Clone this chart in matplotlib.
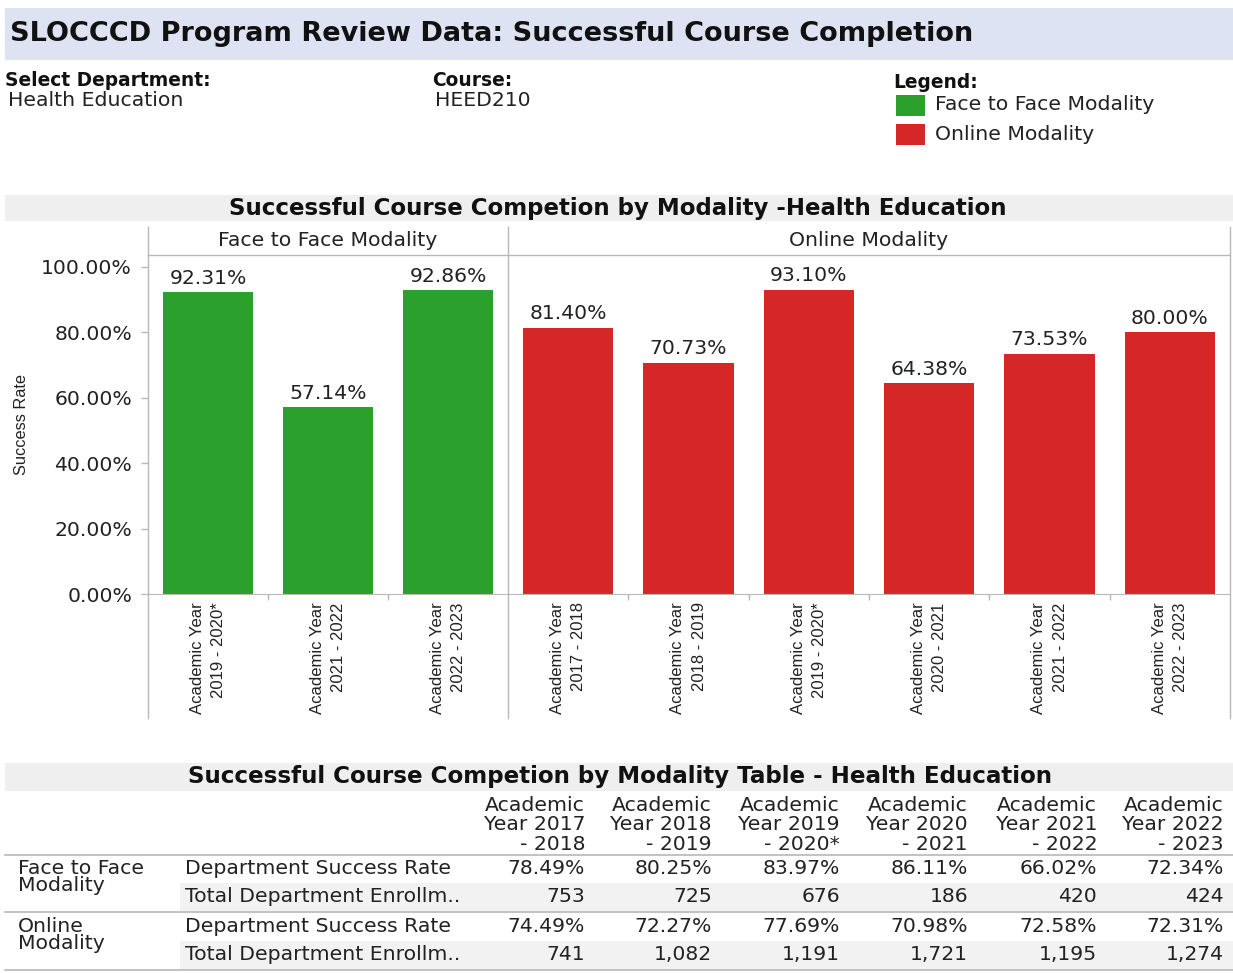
"""Successful course completion by modality, Health Education (SLOCCCD program review)."""

import matplotlib

matplotlib.use("Agg")
import matplotlib.pyplot as plt
from matplotlib.lines import Line2D
from matplotlib.patches import Rectangle

# ---- data -------------------------------------------------------------
f2f_years = ["Academic Year\n2019 - 2020*", "Academic Year\n2021 - 2022", "Academic Year\n2022 - 2023"]
f2f_rates = [92.31, 57.14, 92.86]

online_years = [
    "Academic Year\n2017 - 2018",
    "Academic Year\n2018 - 2019",
    "Academic Year\n2019 - 2020*",
    "Academic Year\n2020 - 2021",
    "Academic Year\n2021 - 2022",
    "Academic Year\n2022 - 2023",
]
online_rates = [81.40, 70.73, 93.10, 64.38, 73.53, 80.00]

y_ticks = [0, 20, 40, 60, 80, 100]

table_years = [
    "Academic\nYear 2017\n- 2018",
    "Academic\nYear 2018\n- 2019",
    "Academic\nYear 2019\n- 2020*",
    "Academic\nYear 2020\n- 2021",
    "Academic\nYear 2021\n- 2022",
    "Academic\nYear 2022\n- 2023",
]
f2f_dept_rate = [78.49, 80.25, 83.97, 86.11, 66.02, 72.34]
f2f_enroll = [753, 725, 676, 186, 420, 424]
online_dept_rate = [74.49, 72.27, 77.69, 70.98, 72.58, 72.31]
online_enroll = [741, 1082, 1191, 1721, 1195, 1274]

# ---- styling ----------------------------------------------------------
W, H = 1233, 973
GREEN = "#2ca02c"
RED = "#d62728"
LINE = "#b8b8b8"
TXT = "#222222"
SANS = "DejaVu Sans"
NARROW = "Liberation Sans"
FS = 14.7

fig = plt.figure(figsize=(W / 100, H / 100), dpi=100)


def fx(x):
    return x / W


def fy(y):
    return 1 - y / H


def band(x0, y0, x1, y1, color):
    fig.patches.append(Rectangle((fx(x0), fy(y1)), fx(x1) - fx(x0), fy(y0) - fy(y1),
                                 transform=fig.transFigure, facecolor=color,
                                 edgecolor="none", zorder=0))


def hline(y, x0, x1, color=LINE, lw=1.0):
    fig.add_artist(Line2D([fx(x0), fx(x1)], [fy(y), fy(y)], color=color, lw=lw))


def vline(x, y0, y1, color=LINE, lw=1.0):
    fig.add_artist(Line2D([fx(x), fx(x)], [fy(y0), fy(y1)], color=color, lw=lw))


def text(x, y, s, **kw):
    kw.setdefault("fontsize", FS)
    kw.setdefault("family", SANS)
    kw.setdefault("color", TXT)
    kw.setdefault("va", "center")
    fig.text(fx(x), fy(y), s, **kw)


# ---- header -----------------------------------------------------------
band(5, 8, 1233, 60, "#dde3f2")
text(10, 34, "SLOCCCD Program Review Data: Successful Course Completion",
     fontsize=19.5, weight="bold", color="#111111")

text(5, 81, "Select Department:", fontsize=13.4, weight="bold", color="#111111")
text(8, 100, "Health Education")
text(432, 81, "Course:", fontsize=13.4, weight="bold", color="#111111")
text(435, 100, "HEED210")
text(893, 82, "Legend:", fontsize=13.4, weight="bold", color="#111111")
band(896, 95, 925, 116, GREEN)
text(935, 105, "Face to Face Modality")
band(896, 124, 925, 145, RED)
text(935, 134, "Online Modality")

# ---- chart ------------------------------------------------------------
band(5, 195, 1233, 221, "#efefef")
text(618, 208, "Successful Course Competion by Modality -Health Education",
     fontsize=16.5, weight="bold", color="#111111", ha="center")

x_left, x_mid, x_right = 148, 508, 1230
y_top, y_zero = 255, 594
ymax = (y_zero - y_top) / 3.27

panels = [
    (x_left, x_mid, f2f_years, f2f_rates, GREEN, "Face to Face Modality"),
    (x_mid, x_right, online_years, online_rates, RED, "Online Modality"),
]
for i, (x0, x1, labels, rates, color, title) in enumerate(panels):
    ax = fig.add_axes([fx(x0), fy(y_zero), fx(x1) - fx(x0), fy(y_top) - fy(y_zero)])
    n = len(rates)
    pos = list(range(n))
    ax.bar(pos, rates, width=0.75, color=color, zorder=2)
    for p, v in zip(pos, rates):
        ax.annotate(f"{v:.2f}%", (p, v), xytext=(0, 10), textcoords="offset points",
                    ha="center", va="center", fontsize=FS, family=SANS, color=TXT)
    ax.set_xlim(-0.5, n - 0.5)
    ax.set_ylim(0, ymax)
    ax.set_facecolor("none")
    for side in ("top", "right", "left"):
        ax.spines[side].set_visible(False)
    ax.spines["bottom"].set_color(LINE)
    ax.set_xticks(pos)
    ax.set_xticklabels(labels, rotation=90, ha="center", va="top",
                       family=NARROW, fontsize=12, color=TXT)
    for t in ax.get_xticklabels():
        t.set_multialignment("right")
        t.set_linespacing(1.55)
    ax.set_xticks([p + 0.5 for p in pos[:-1]], minor=True)
    ax.tick_params(axis="x", which="major", length=0, pad=6)
    ax.tick_params(axis="x", which="minor", length=4.5, color=LINE, width=1)
    if i == 0:
        ax.set_yticks(y_ticks)
        ax.set_yticklabels([f"{v:.2f}%" for v in y_ticks], family=SANS, fontsize=FS, color=TXT)
        ax.tick_params(axis="y", length=5, color=LINE, width=1, pad=6.5)
    else:
        ax.set_yticks([])
    text((x0 + x1) / 2, 241, title, ha="center")

hline(y_top, x_left, x_right)
for x in (x_left, x_mid, x_right):
    vline(x, 227, 718)

fig.text(fx(22), fy((y_top + y_zero) / 2), "Success Rate", rotation=90, ha="center",
         va="center", family=NARROW, fontsize=11.8, color=TXT)

# ---- table ------------------------------------------------------------
band(5, 763, 1233, 791, "#efefef")
text(620, 777, "Successful Course Competion by Modality Table - Health Education",
     fontsize=16.6, weight="bold", color="#111111", ha="center")

col_right = [585, 712, 840, 968, 1097, 1224]
for xr, lab in zip(col_right, table_years):
    text(xr, 825, lab, ha="right", ma="right", linespacing=1.06)

hline(855, 5, 1233, lw=1.2)
band(180, 883, 1233, 911, "#f2f2f2")
hline(912, 5, 1233, lw=1.2)
band(180, 941, 1233, 969, "#f2f2f2")
hline(970, 5, 1233, lw=1.2)

groups = [
    ("Face to Face\nModality", 868, f2f_dept_rate, f2f_enroll),
    ("Online\nModality", 926, online_dept_rate, online_enroll),
]
for name, y, rates, enroll in groups:
    text(18, y + 9, name, linespacing=0.88)
    text(185, y, "Department Success Rate")
    text(185, y + 29, "Total Department Enrollm..")
    for xr, r, e in zip(col_right, rates, enroll):
        text(xr, y, f"{r:.2f}%", ha="right")
        text(xr, y + 29, f"{e:,}", ha="right")

fig.savefig("out.png", dpi=100)
